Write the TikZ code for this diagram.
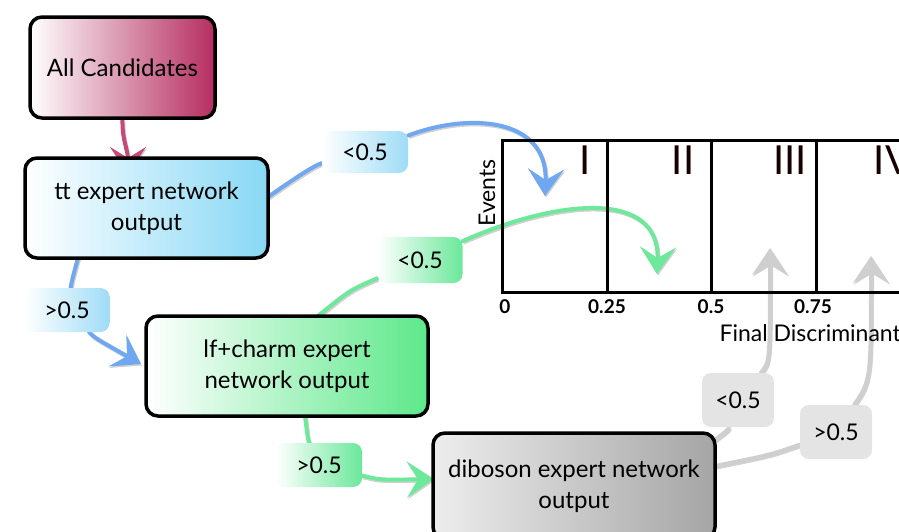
\documentclass[tikz,border=0pt]{standalone}
\usepackage{fontspec}
\setmainfont{Lato}
\usetikzlibrary{arrows.meta}
\definecolor{candR}{HTML}{B52D5F}
\definecolor{ttR}{HTML}{87D8F5}
\definecolor{lfR}{HTML}{5DE88A}
\definecolor{dibL}{HTML}{EDEDED}
\definecolor{dibR}{HTML}{A5A5A5}
\definecolor{blueL}{HTML}{6FA8F0}
\definecolor{blueLab}{HTML}{9FDCF6}
\definecolor{greenL}{HTML}{6EE89A}
\definecolor{greenLab}{HTML}{6AE89A}
\definecolor{grayL}{HTML}{CFCFCF}
\definecolor{grayLab}{HTML}{E4E4E4}
\definecolor{magL}{HTML}{C9487A}
\pgfdeclarelayer{bg}
\pgfsetlayers{bg,main}
\tikzset{
  box/.style={draw=black, line width=3.5pt, rounded corners=12pt, align=center,
    font=\fontsize{24}{31}\selectfont, text=black},
  lab/.style={rounded corners=9pt, font=\fontsize{23}{26}\selectfont, text=black},
  conn/.style={line width=4pt, line cap=round,
    preaction={draw=black!18, line width=4pt, transform canvas={shift={(1pt,-1.5pt)}}}},
  tip/.style={-{Stealth[length=27pt, width=36pt, inset=11pt]}},
  axis/.style={line width=3pt},
}
\begin{document}
\begin{tikzpicture}[x=1pt,y=-1pt]
\useasboundingbox (0,0) rectangle (899,531);
\clip (0,0) rectangle (899,531);
% boxes
\node[box, left color=white, right color=candR, minimum width=185pt, minimum height=101pt] (all) at (122.5,67.5) {All Candidates};
\node[box, left color=white, right color=ttR, minimum width=243pt, minimum height=100pt] (tt) at (146.5,208) {tt expert network\\output};
\node[box, left color=white, right color=lfR, minimum width=282pt, minimum height=100pt] (lf) at (287,366) {lf+charm expert\\network output};
\node[box, left color=dibL, right color=dibR, minimum width=282pt, minimum height=106pt] (dib) at (574,486) {diboson expert network\\output};
% labels
\node[lab, left color=white, right color=blueLab, minimum width=86pt, minimum height=42pt] (lb1) at (365,152) {<0.5};
\node[lab, left color=white, right color=blueLab, minimum width=85pt, minimum height=44pt] (lb2) at (67,310) {>0.5};
\node[lab, left color=white, right color=greenLab, minimum width=85pt, minimum height=46pt] (lg1) at (420,260) {<0.5};
\node[lab, left color=white, right color=greenLab, minimum width=86pt, minimum height=44pt] (lg2) at (319,465) {>0.5};
\node[lab, fill=grayLab, minimum width=72pt, minimum height=54pt] (lr1) at (738,400) {<0.5};
\node[lab, fill=grayLab, minimum width=72pt, minimum height=54pt] (lr2) at (836,432) {>0.5};
% plot
\coordinate (pTL) at (502,140);
\coordinate (pBR) at (930,292);
\draw[axis] (pTL) rectangle (pBR);
\foreach \x in {607,711,816}{
  \draw[axis] (\x,140) -- (\x,292);
}
\foreach \x/\t in {585/I,683/II,790/III,893/IV}{
  \node[font=\fontsize{40}{40}\selectfont, text=black!90!red] at (\x,160) {\t};
}
\foreach \x/\t in {505/0,607/0.25,711/0.5,813/0.75}{
  \node[font=\bfseries\fontsize{19}{19}\selectfont] at (\x,307) {\t};
}
\node[font=\fontsize{23}{23}\selectfont, anchor=west] (fd) at (716,333) {Final Discriminant};
\node[font=\fontsize{23}{23}\selectfont, rotate=90] (ev) at (487,193) {Events};
% arrow ends
\coordinate (e1) at (128,174);
\coordinate (e2) at (545,196);
\coordinate (e3) at (141,364);
\coordinate (e4) at (657,274);
\coordinate (e5) at (434,479);
\coordinate (e6) at (770,248);
\coordinate (e7) at (871,256);
\begin{pgfonlayer}{bg}
\draw[conn, magL, tip] (all.south) .. controls (122,140) and (128,150) .. (e1);
\draw[conn, blueL] (268,197) .. controls (295,178) and (315,165) .. (lb1);
\draw[conn, blueL, tip] (lb1) .. controls (470,112) and (548,118) .. (e2);
\draw[conn, blueL] (78,258) .. controls (72,280) .. (lb2);
\draw[conn, blueL, tip] (lb2) .. controls (95,338) .. (e3);
\draw[conn, greenL] (318,316) .. controls (350,290) .. (lg1);
\draw[conn, greenL, tip] (lg1) .. controls (560,198) and (660,190) .. (e4);
\draw[conn, greenL] (305,416) .. controls (308,440) .. (lg2);
\draw[conn, greenL, tip] (lg2) .. controls (380,480) .. (e5);
\draw[conn, grayL] (712,442) .. controls (728,430) .. (lr1);
\draw[conn, grayL, tip] (lr1) .. controls (770,362) .. (e6);
\draw[conn, grayL] (715,466) .. controls (770,455) .. (lr2);
\draw[conn, grayL, tip] (lr2) .. controls (871,380) .. (e7);
\end{pgfonlayer}
\end{tikzpicture}
\end{document}
